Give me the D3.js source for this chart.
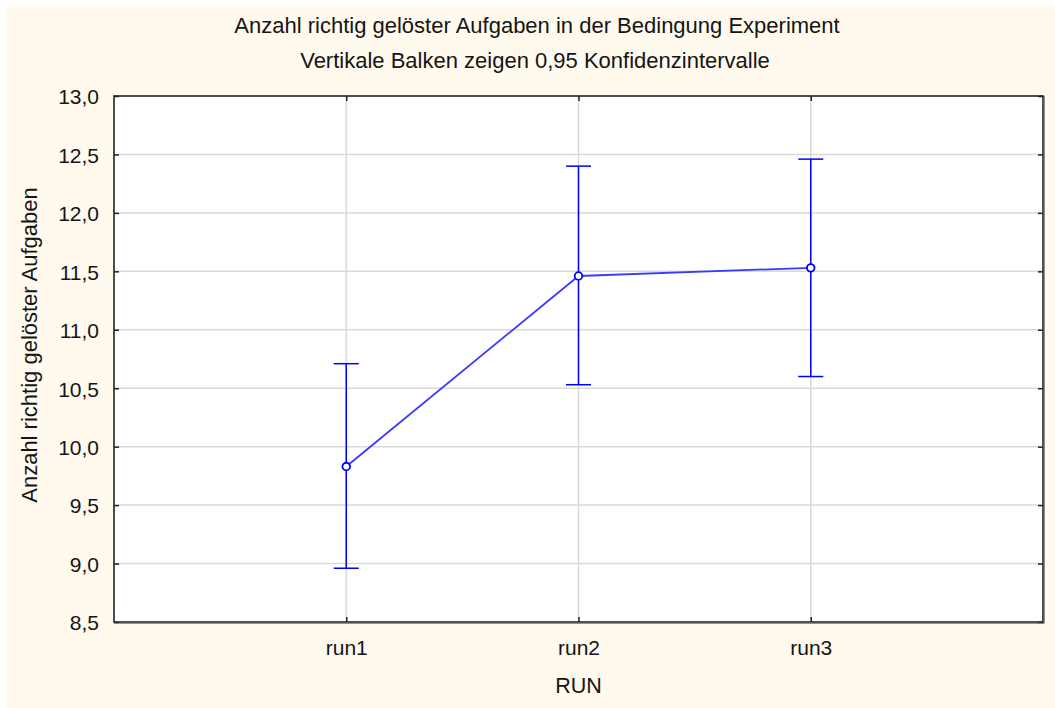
<!DOCTYPE html>
<html>
<head>
<meta charset="utf-8">
<script src="https://cdn.jsdelivr.net/npm/d3@7"></script>
<style>
  html, body { margin: 0; padding: 0; background: #ffffff; }
  svg { display: block; }
  text { font-family: "Liberation Sans", Arial, sans-serif; fill: #151515; }
</style>
</head>
<body>
<svg id="chart" width="1055" height="708"></svg>
<script>
// Means and 95% confidence limits per run
const runs = ["run1", "run2", "run3"];
const means = [9.83, 11.46, 11.53];
const lower = [8.96, 10.53, 10.60];
const upper = [10.71, 12.40, 12.46];
const yTicks = [8.5, 9.0, 9.5, 10.0, 10.5, 11.0, 11.5, 12.0, 12.5, 13.0];

const titleText = "Anzahl richtig gelöster Aufgaben in der Bedingung Experiment";
const subtitleText = "Vertikale Balken zeigen 0,95 Konfidenzintervalle";
const xTitle = "RUN";
const yTitle = "Anzahl richtig gelöster Aufgaben";

const W = 1055, H = 708;
const plot = { left: 114, right: 1043, top: 96, bottom: 622 };

const svg = d3.select("#chart");

// cream page background
svg.append("rect").attr("x", 7).attr("y", 5).attr("width", W - 7).attr("height", H - 5)
  .attr("fill", "#fff9ee");

const x = d3.scalePoint().domain(runs).range([plot.left, plot.right]).padding(1);
const y = d3.scaleLinear().domain([8.5, 13.0]).range([plot.bottom, plot.top]);
const fmt = d => d3.format(".1f")(d).replace(".", ",");

// plot area
svg.append("rect").attr("x", plot.left).attr("y", plot.top)
  .attr("width", plot.right - plot.left).attr("height", plot.bottom - plot.top)
  .attr("fill", "#ffffff");

// grid
const grid = svg.append("g").attr("stroke", "#d9d9d9").attr("stroke-width", 1.5);
grid.selectAll("line.h").data(yTicks.slice(1, -1)).join("line")
  .attr("x1", plot.left).attr("x2", plot.right)
  .attr("y1", d => y(d)).attr("y2", d => y(d));
grid.selectAll("line.v").data(runs).join("line")
  .attr("x1", d => x(d)).attr("x2", d => x(d))
  .attr("y1", plot.top).attr("y2", plot.bottom);

// axes: labels outside, ticks pointing inward
const yAxis = svg.append("g").attr("transform", `translate(${plot.left},0)`)
  .call(d3.axisLeft(y).tickValues(yTicks).tickFormat(fmt).tickSizeInner(-5).tickSizeOuter(0).tickPadding(15));
const xAxis = svg.append("g").attr("transform", `translate(0,${plot.bottom})`)
  .call(d3.axisBottom(x).tickSizeInner(-5).tickSizeOuter(0).tickPadding(18));
const yAxisR = svg.append("g").attr("transform", `translate(${plot.right},0)`)
  .call(d3.axisRight(y).tickValues(yTicks).tickFormat("").tickSizeInner(-5).tickSizeOuter(0));
const xAxisT = svg.append("g").attr("transform", `translate(0,${plot.top})`)
  .call(d3.axisTop(x).tickFormat("").tickSizeInner(-5).tickSizeOuter(0));
[yAxis, xAxis, yAxisR, xAxisT].forEach(g => {
  g.select(".domain").remove();
  g.selectAll(".tick line").attr("stroke", "#222").attr("stroke-width", 1.5);
  g.selectAll("text").attr("font-size", 21).attr("font-family", "Liberation Sans, Arial, sans-serif").attr("fill", "#151515");
});
yAxis.selectAll("text").attr("dy", "0.37em");

// frame
svg.append("rect").attr("x", plot.left).attr("y", plot.top)
  .attr("width", plot.right - plot.left).attr("height", plot.bottom - plot.top)
  .attr("fill", "none").attr("stroke", "#222").attr("stroke-width", 1.6);
svg.append("path")
  .attr("d", `M${plot.right + 1.3},${plot.top}V${plot.bottom + 1.3}H${plot.left}`)
  .attr("fill", "none").attr("stroke", "#777").attr("stroke-width", 1);

// error bars
const data = runs.map((r, i) => ({ r, m: means[i], lo: lower[i], hi: upper[i] }));
const bars = svg.append("g").attr("stroke", "#0000ff").attr("stroke-width", 1.5).attr("fill", "none");
bars.selectAll("line.stem").data(data).join("line")
  .attr("x1", d => x(d.r)).attr("x2", d => x(d.r))
  .attr("y1", d => y(d.lo)).attr("y2", d => y(d.hi));
bars.selectAll("line.capHi").data(data).join("line")
  .attr("x1", d => x(d.r) - 12.5).attr("x2", d => x(d.r) + 12.5)
  .attr("y1", d => y(d.hi)).attr("y2", d => y(d.hi));
bars.selectAll("line.capLo").data(data).join("line")
  .attr("x1", d => x(d.r) - 12.5).attr("x2", d => x(d.r) + 12.5)
  .attr("y1", d => y(d.lo)).attr("y2", d => y(d.lo));

// line through the means
svg.append("path").datum(data)
  .attr("d", d3.line().x(d => x(d.r)).y(d => y(d.m)))
  .attr("fill", "none").attr("stroke", "#3a3aff").attr("stroke-width", 1.8);

// mean markers
svg.append("g").selectAll("circle").data(data).join("circle")
  .attr("cx", d => x(d.r)).attr("cy", d => y(d.m)).attr("r", 3.8)
  .attr("fill", "#ffffff").attr("stroke", "#0000ff").attr("stroke-width", 1.8);

// titles
const cx = (plot.left + plot.right) / 2;
svg.append("text").attr("x", 537).attr("y", 33).attr("text-anchor", "middle")
  .attr("font-size", 22).text(titleText);
svg.append("text").attr("x", 535).attr("y", 68).attr("text-anchor", "middle")
  .attr("font-size", 22).text(subtitleText);
svg.append("text").attr("x", cx).attr("y", 693).attr("text-anchor", "middle")
  .attr("font-size", 21.5).text(xTitle);
svg.append("text").attr("transform", `translate(37,345) rotate(-90)`).attr("text-anchor", "middle")
  .attr("font-size", 22).text(yTitle);
</script>
</body>
</html>
